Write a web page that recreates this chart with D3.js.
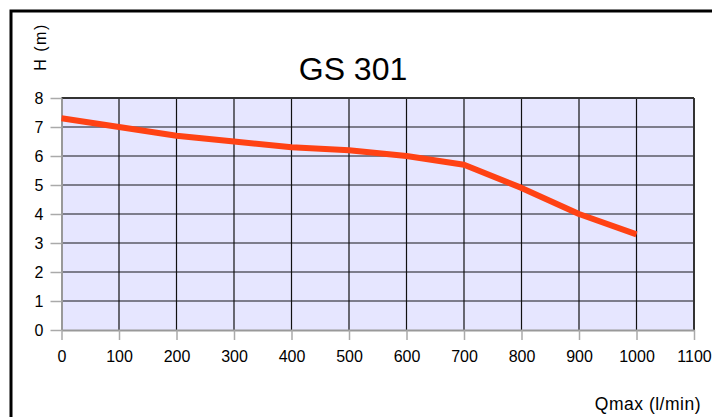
<!DOCTYPE html>
<html>
<head>
<meta charset="utf-8">
<script src="https://cdn.jsdelivr.net/npm/d3@7"></script>
<style>
  body { margin: 0; background: #fff; }
  svg { display: block; font-family: "Liberation Sans", Arial, sans-serif; }
</style>
</head>
<body>
<div id="chart"></div>
<script>
var flow = [0, 100, 200, 300, 400, 500, 600, 700, 800, 900, 1000];
var head = [7.3, 7.0, 6.7, 6.5, 6.3, 6.2, 6.0, 5.7, 4.9, 4.0, 3.3];
var xTicks = [0, 100, 200, 300, 400, 500, 600, 700, 800, 900, 1000, 1100];
var yTicks = [0, 1, 2, 3, 4, 5, 6, 7, 8];

var width = 712, height = 417;
var plotL = 61.5, plotR = 694, plotT = 98, plotB = 330;

var svg = d3.select("#chart").append("svg")
  .attr("width", width)
  .attr("height", height);

// outer frame
svg.append("rect")
  .attr("x", 11).attr("y", 11)
  .attr("width", 720).attr("height", 440)
  .attr("fill", "none")
  .attr("stroke", "#000")
  .attr("stroke-width", 3);

var x = d3.scaleLinear().domain([0, 1100]).range([plotL, plotR]);
var y = d3.scaleLinear().domain([0, 8]).range([plotB, plotT]);

svg.append("rect")
  .attr("x", plotL).attr("y", plotT)
  .attr("width", plotR - plotL).attr("height", plotB - plotT)
  .attr("fill", "#e6e6ff");

// grid
svg.append("g").selectAll("line")
  .data(yTicks.slice(1, -1))
  .join("line")
  .attr("x1", plotL).attr("x2", plotR)
  .attr("y1", function(d) { return y(d); })
  .attr("y2", function(d) { return y(d); })
  .attr("stroke", "#5a5a66")
  .attr("stroke-width", 1.6);

svg.append("g").selectAll("line")
  .data(xTicks.slice(1, -1))
  .join("line")
  .attr("x1", function(d) { return x(d); })
  .attr("x2", function(d) { return x(d); })
  .attr("y1", plotT).attr("y2", plotB)
  .attr("stroke", "#111")
  .attr("stroke-width", 1.2);

// plot border
svg.append("line").attr("x1", plotL).attr("x2", plotR).attr("y1", plotT).attr("y2", plotT)
  .attr("stroke", "#333").attr("stroke-width", 2);
svg.append("line").attr("x1", plotR).attr("x2", plotR).attr("y1", plotT).attr("y2", plotB)
  .attr("stroke", "#333").attr("stroke-width", 2);

// axes
var yAxis = svg.append("g")
  .attr("transform", "translate(" + plotL + ",0)")
  .call(d3.axisLeft(y).tickValues(yTicks).tickSize(11).tickPadding(7).tickSizeOuter(0).tickFormat(d3.format("d")));
var xAxis = svg.append("g")
  .attr("transform", "translate(0," + plotB + ")")
  .call(d3.axisBottom(x).tickValues(xTicks).tickSize(10).tickPadding(11).tickSizeOuter(0).tickFormat(d3.format("d")));

[yAxis, xAxis].forEach(function(a) {
  a.attr("font-size", 16).attr("font-family", "'Liberation Sans Narrow', 'Liberation Sans', sans-serif");
  a.select(".domain").attr("stroke", "#999").attr("stroke-width", 2);
  a.selectAll(".tick line").attr("stroke", "#aaa").attr("stroke-width", 1.5);
  a.selectAll(".tick text").attr("fill", "#000");
});

// curve
var line = d3.line()
  .x(function(d, i) { return x(flow[i]); })
  .y(function(d) { return y(d); });

svg.append("path")
  .datum(head)
  .attr("fill", "none")
  .attr("stroke", "#ff4214")
  .attr("stroke-width", 6)
  .attr("stroke-linejoin", "round")
  .attr("d", line);

// texts
svg.append("text")
  .attr("x", 353).attr("y", 80)
  .attr("text-anchor", "middle")
  .style("font-size", "32px")
  .text("GS 301");

svg.append("text")
  .attr("transform", "translate(46,47) rotate(-90)")
  .attr("text-anchor", "middle")
  .style("font-size", "16px")
  .style("letter-spacing", "1.5px")
  .text("H (m)");

svg.append("text")
  .attr("x", 701).attr("y", 410)
  .attr("text-anchor", "end")
  .style("font-size", "17.5px")
  .style("letter-spacing", "0.5px")
  .text("Qmax (l/min)");
</script>
</body>
</html>
